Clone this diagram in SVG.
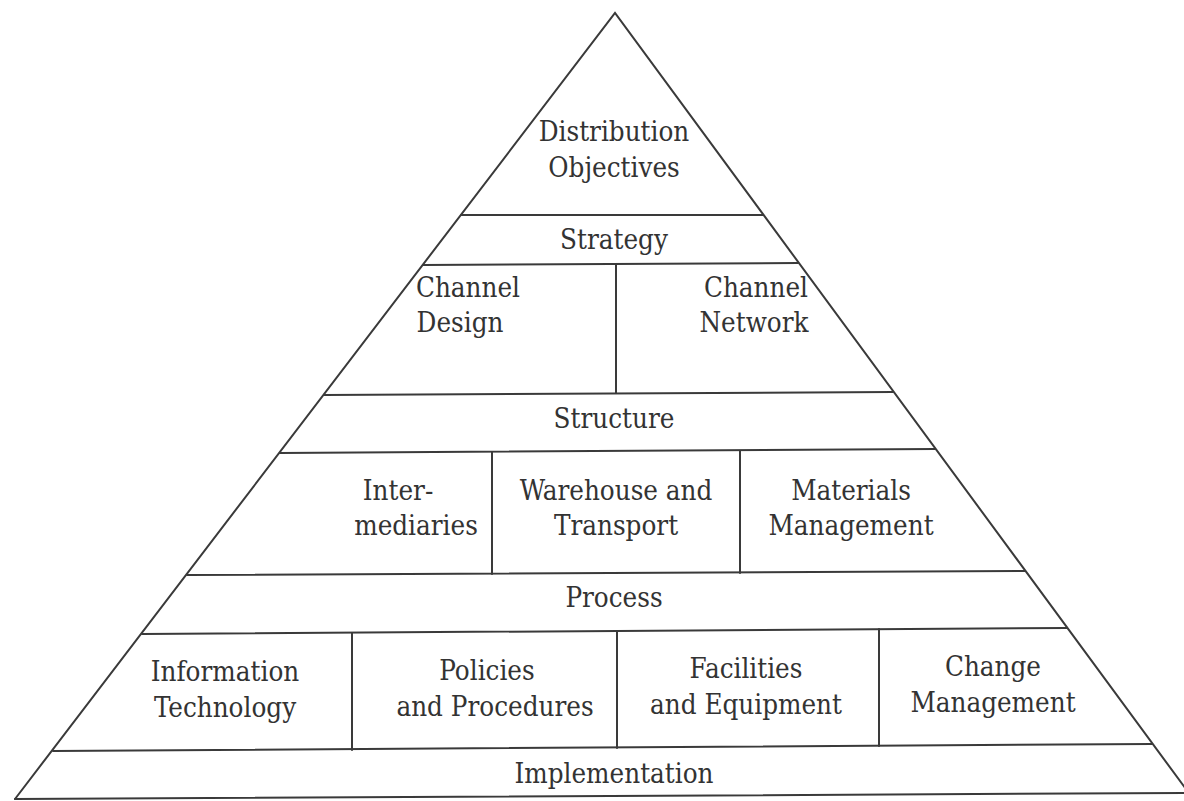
<svg xmlns="http://www.w3.org/2000/svg" width="1184" height="801" viewBox="0 0 1184 801">
  <style>
    .edge { stroke: #3a3a3a; stroke-width: 2; fill: none; stroke-linecap: round; }
    .lbl { font-family: "DejaVu Serif Condensed", "DejaVu Serif", serif; font-stretch: condensed; font-size: 27.5px; fill: #333; text-anchor: middle; }
  </style>
  <rect width="1184" height="801" fill="#ffffff"/>

  <!-- pyramid outline and tier dividers -->
  <g id="connectors">
    <path class="edge" d="M15,799 L615,13 L1194,800"/>
    <line class="edge" x1="461" y1="215" x2="763" y2="215"/>
    <line class="edge" x1="423" y1="265" x2="798" y2="263"/>
    <line class="edge" x1="324" y1="395" x2="893" y2="392"/>
    <line class="edge" x1="280" y1="453" x2="935" y2="449"/>
    <line class="edge" x1="187" y1="575" x2="1025" y2="571"/>
    <line class="edge" x1="142" y1="634" x2="1067" y2="628"/>
    <line class="edge" x1="53" y1="751" x2="1152" y2="744"/>
    <line class="edge" x1="15" y1="799" x2="1184" y2="793"/>
    <!-- cell dividers -->
    <line class="edge" x1="616" y1="264" x2="616" y2="393"/>
    <line class="edge" x1="492" y1="452" x2="492" y2="574"/>
    <line class="edge" x1="740" y1="451" x2="740" y2="573"/>
    <line class="edge" x1="352" y1="633" x2="352" y2="750"/>
    <line class="edge" x1="617" y1="631" x2="617" y2="748"/>
    <line class="edge" x1="879" y1="629" x2="879" y2="746"/>
  </g>

  <g id="distribution-objectives">
    <text class="lbl" x="614" y="141">Distribution</text>
    <text class="lbl" x="614" y="177">Objectives</text>
  </g>
  <g id="strategy">
    <text class="lbl" x="614" y="249">Strategy</text>
  </g>
  <g id="channel-design">
    <text class="lbl" x="468" y="297">Channel</text>
    <text class="lbl" x="460" y="332">Design</text>
  </g>
  <g id="channel-network">
    <text class="lbl" x="756" y="297">Channel</text>
    <text class="lbl" x="754" y="332">Network</text>
  </g>
  <g id="structure">
    <text class="lbl" x="614" y="428">Structure</text>
  </g>
  <g id="intermediaries">
    <text class="lbl" x="398" y="500">Inter-</text>
    <text class="lbl" x="416" y="535">mediaries</text>
  </g>
  <g id="warehouse-transport">
    <text class="lbl" x="616" y="500">Warehouse and</text>
    <text class="lbl" x="616" y="535">Transport</text>
  </g>
  <g id="materials-management">
    <text class="lbl" x="851" y="500">Materials</text>
    <text class="lbl" x="851" y="535">Management</text>
  </g>
  <g id="process">
    <text class="lbl" x="614" y="607">Process</text>
  </g>
  <g id="information-technology">
    <text class="lbl" x="225" y="681">Information</text>
    <text class="lbl" x="225" y="717">Technology</text>
  </g>
  <g id="policies-procedures">
    <text class="lbl" x="487" y="680">Policies</text>
    <text class="lbl" x="495" y="716">and Procedures</text>
  </g>
  <g id="facilities-equipment">
    <text class="lbl" x="746" y="678">Facilities</text>
    <text class="lbl" x="746" y="714">and Equipment</text>
  </g>
  <g id="change-management">
    <text class="lbl" x="993" y="676">Change</text>
    <text class="lbl" x="993" y="712">Management</text>
  </g>
  <g id="implementation">
    <text class="lbl" x="614" y="783">Implementation</text>
  </g>
</svg>
